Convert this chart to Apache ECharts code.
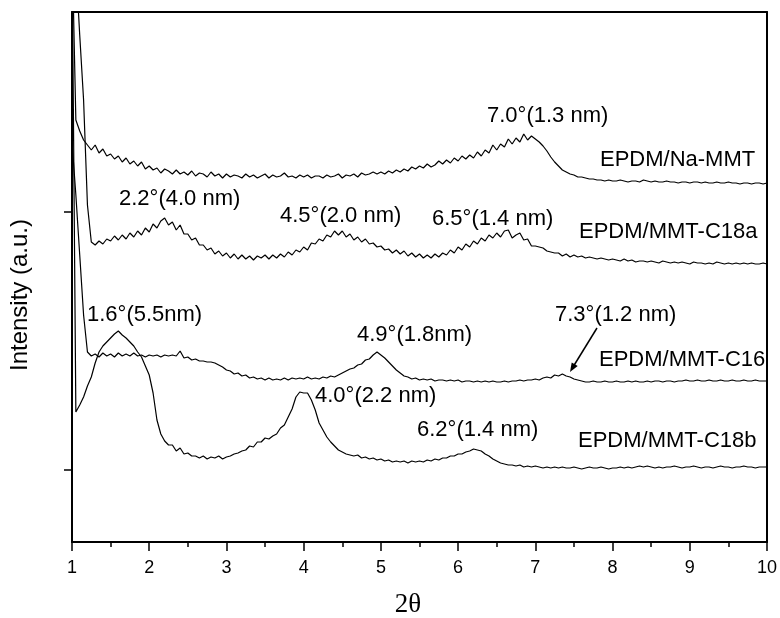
<!DOCTYPE html>
<html>
<head>
<meta charset="utf-8">
<script src="https://cdn.jsdelivr.net/npm/echarts@6/dist/echarts.min.js"></script>
<style>
  html, body { margin: 0; padding: 0; background: #fff; }
  #chart { width: 780px; height: 618px; }
</style>
</head>
<body>
<div id="chart"></div>
<script>
// XRD scan settings: start angle and step of 2θ (degrees)
const scanStart = 1.0;
const scanStep = 0.05;

// Diffracted intensity (a.u., curves offset vertically), one value per scan step from 1.00° to 10.00°
const naMMT = [
  600, 422, 411, 402, 397, 392, 397, 389, 393, 386,
  388, 383, 386, 380, 384, 378, 381, 376, 380, 373,
  376, 372, 374, 369, 373, 371, 368, 372, 368, 370,
  367, 371, 366, 369, 368, 365, 370, 366, 368, 364,
  368, 365, 367, 366, 364, 368, 365, 367, 364, 366,
  368, 364, 367, 365, 366, 369, 365, 366, 364, 367,
  365, 367, 364, 366, 366, 364, 367, 365, 366, 368,
  364, 367, 366, 368, 365, 369, 367, 368, 370, 368,
  370, 368, 371, 369, 372, 370, 373, 371, 375, 373,
  376, 374, 378, 375, 377, 381, 378, 382, 379, 384,
  381, 386, 383, 387, 384, 390, 386, 392, 389, 397,
  392, 398, 395, 403, 398, 404, 400, 408, 402, 406,
  403, 400, 396, 391, 385, 380, 376, 372, 370, 368,
  367, 365, 365, 364, 363, 363, 362, 362, 361, 362,
  361, 361, 362, 361, 360, 361, 361, 360, 362, 361,
  360, 361, 360, 360, 361, 360, 360, 359, 360, 360,
  359, 360, 360, 359, 360, 359, 359, 360, 359, 359,
  360, 359, 359, 358, 359, 359, 358, 359, 359, 358,
  359
];

const mmtC18a = [
  700, 577, 507, 442, 337, 300, 297, 301, 298, 303,
  301, 306, 302, 307, 303, 309, 305, 311, 307, 314,
  310, 318, 314, 321, 324, 317, 320, 312, 317, 308,
  308, 302, 304, 297, 297, 292, 294, 288, 291, 286,
  289, 284, 288, 283, 287, 283, 286, 282, 286, 284,
  287, 283, 287, 284, 288, 285, 290, 287, 292, 290,
  295, 292, 299, 298, 303, 301, 307, 305, 311, 307,
  311, 305, 308, 302, 305, 300, 303, 298, 299, 295,
  296, 292, 293, 289, 292, 288, 291, 286, 289, 285,
  288, 284, 287, 284, 288, 285, 289, 287, 292, 289,
  295, 292, 298, 295, 301, 298, 304, 301, 307, 304,
  309, 305, 311, 312, 304, 307, 309, 302, 303, 296,
  296, 295, 294, 291, 290, 289, 289, 286, 288, 285,
  287, 285, 286, 284, 285, 284, 283, 284, 283, 282,
  283, 282, 281, 283, 281, 282, 280, 281, 281, 280,
  281, 280, 279, 281, 280, 279, 280, 279, 280, 279,
  278, 280, 279, 279, 278, 279, 278, 280, 279, 278,
  279, 278, 279, 278, 279, 278, 279, 278, 278, 279,
  278
];

const mmtC16 = [
  400, 347, 287, 227, 190, 186, 188, 185, 189, 186,
  188, 185, 189, 186, 188, 186, 189, 186, 187, 185,
  187, 186, 187, 185, 187, 186, 187, 186, 191, 184,
  185, 182, 183, 181, 181, 180, 180, 179, 177, 175,
  172, 171, 168, 169, 166, 167, 164, 165, 163, 164,
  162, 164, 162, 163, 162, 164, 162, 164, 163, 164,
  163, 165, 163, 164, 163, 165, 164, 166, 165, 167,
  169, 171, 173, 174, 177, 178, 182, 183, 187, 190,
  187, 184, 180, 176, 172, 169, 166, 165, 163, 164,
  162, 163, 162, 163, 161, 162, 162, 161, 162, 161,
  162, 160, 161, 161, 160, 161, 160, 161, 160, 161,
  160, 160, 161, 160, 161, 161, 162, 161, 162, 162,
  163, 162, 164, 165, 164, 167, 166, 168, 166, 165,
  163, 162, 161, 160, 160, 161, 160, 160, 161, 160,
  160, 161, 160, 160, 161, 160, 161, 160, 160, 161,
  160, 161, 161, 160, 161, 161, 160, 161, 161, 162,
  161, 161, 162, 161, 161, 162, 161, 161, 162, 161,
  161, 162, 161, 161, 162, 161, 161, 162, 161, 161,
  161
];

const mmtC18b = [
  600, 130, 137, 145, 156, 165, 179, 190, 196, 200,
  204, 208, 211, 207, 204, 200, 196, 190, 185, 176,
  167, 149, 122, 108, 101, 97, 97, 91, 94, 88,
  89, 86, 86, 84, 86, 83, 85, 84, 86, 83,
  85, 86, 88, 89, 91, 92, 96, 95, 100, 100,
  104, 103, 106, 108, 114, 117, 125, 133, 145, 150,
  149, 149, 142, 132, 119, 112, 105, 100, 96, 92,
  90, 88, 87, 86, 87, 84, 85, 83, 84, 82,
  83, 81, 82, 80, 81, 80, 81, 79, 81, 80,
  81, 80, 82, 81, 83, 82, 84, 84, 86, 86,
  88, 88, 90, 91, 93, 92, 91, 88, 86, 83,
  81, 79, 78, 77, 77, 76, 77, 75, 76, 75,
  76, 75, 74, 75, 74, 75, 74, 75, 74, 74,
  75, 74, 73, 74, 75, 74, 74, 75, 74, 73,
  74, 74, 75, 74, 75, 74, 75, 76, 75, 76,
  75, 74, 75, 74, 75, 75, 76, 75, 74, 75,
  75, 76, 75, 74, 75, 75, 74, 75, 76, 75,
  75, 74, 75, 75, 76, 75, 75, 74, 75, 75,
  75
];

// Sample names and peak annotations (reflection angle and d-spacing)
const sampleNames = ['EPDM/Na-MMT', 'EPDM/MMT-C18a', 'EPDM/MMT-C16', 'EPDM/MMT-C18b'];
const peakNotes = [
  '7.0°(1.3 nm)',
  '2.2°(4.0 nm)', '4.5°(2.0 nm)', '6.5°(1.4 nm)',
  '1.6°(5.5nm)', '4.9°(1.8nm)', '7.3°(1.2 nm)',
  '4.0°(2.2 nm)', '6.2°(1.4 nm)'
];

// Y ticks marking the baselines (intensity a.u.)
const yTickValues = [72, 330];

// ---- layout ----
const textFont = '22px "Liberation Sans", Arial, sans-serif';
const sampleLabelPos = [[600, 160], [579, 232], [599, 360], [578, 441]];
const peakNotePos = [
  [487, 116],
  [119, 199], [280, 216], [432, 219],
  [87, 315], [357, 335], [555, 315],
  [315, 396], [417, 430]
];

function toPairs(intensity) {
  return intensity.map((v, i) => [Number((scanStart + i * scanStep).toFixed(2)), v]);
}

function textItem(text, pos) {
  return {
    type: 'text', x: pos[0], y: pos[1], silent: true,
    style: {
      text: text, font: textFont, fill: '#000',
      align: 'left', verticalAlign: 'middle',
      textAlign: 'left', textVerticalAlign: 'middle'
    }
  };
}

const chart = echarts.init(document.getElementById('chart'), null, { renderer: 'canvas' });

const curves = [naMMT, mmtC18a, mmtC16, mmtC18b];
const series = curves.map((c, i) => ({
  name: sampleNames[i],
  type: 'line',
  data: toPairs(c),
  showSymbol: false,
  symbol: 'none',
  clip: true,
  lineStyle: { color: '#000', width: 1.2 },
  emphasis: { disabled: true },
  z: 3
}));

const graphic = [];
sampleNames.forEach((n, i) => graphic.push(textItem(n, sampleLabelPos[i])));
peakNotes.forEach((n, i) => graphic.push(textItem(n, peakNotePos[i])));

// arrow pointing at the weak 7.3° reflection of EPDM/MMT-C16
graphic.push({
  type: 'line', silent: true,
  shape: { x1: 597, y1: 328, x2: 573, y2: 367 },
  style: { stroke: '#000', lineWidth: 1.5 }
});
graphic.push({
  type: 'polygon', silent: true,
  shape: { points: [[570, 372], [577.7, 366.1], [571.7, 362.5]] },
  style: { fill: '#000' }
});

// axis titles
graphic.push({
  type: 'text', x: 20, y: 295, rotation: Math.PI / 2, silent: true,
  style: {
    text: 'Intensity (a.u.)', font: '24px "Liberation Sans", Arial, sans-serif', fill: '#000',
    align: 'center', verticalAlign: 'middle',
    textAlign: 'center', textVerticalAlign: 'middle'
  }
});
graphic.push({
  type: 'text', x: 408, y: 605, silent: true,
  style: {
    text: '2θ', font: '27px "Liberation Serif", "Times New Roman", serif', fill: '#000',
    align: 'center', verticalAlign: 'middle',
    textAlign: 'center', textVerticalAlign: 'middle'
  }
});

chart.setOption({
  animation: false,
  backgroundColor: '#fff',
  grid: { left: 72, right: 11, top: 12, bottom: 76, containLabel: false },
  xAxis: [
    {
      type: 'value', min: 1, max: 10, interval: 1, position: 'bottom',
      axisLine: { show: true, onZero: false, lineStyle: { color: '#000', width: 2 } },
      axisTick: { show: true, inside: false, length: 9, lineStyle: { color: '#000', width: 1.5 } },
      minorTick: { show: true, splitNumber: 2, length: 5, lineStyle: { color: '#000', width: 1.5 } },
      axisLabel: { color: '#000', fontSize: 18, fontFamily: '"Liberation Sans", Arial, sans-serif', margin: 17 },
      splitLine: { show: false }
    },
    {
      type: 'value', min: 1, max: 10, interval: 1, position: 'top',
      axisLine: { show: true, onZero: false, lineStyle: { color: '#000', width: 2 } },
      axisTick: { show: false }, axisLabel: { show: false }, splitLine: { show: false }
    }
  ],
  yAxis: [
    {
      type: 'value', min: 0, max: 530, position: 'left',
      axisLine: { show: true, onZero: false, lineStyle: { color: '#000', width: 2 } },
      axisTick: { show: true, inside: false, length: 8, customValues: yTickValues, lineStyle: { color: '#000', width: 1.5 } },
      axisLabel: { show: false },
      splitLine: { show: false }
    },
    {
      type: 'value', min: 0, max: 530, position: 'right',
      axisLine: { show: true, onZero: false, lineStyle: { color: '#000', width: 2 } },
      axisTick: { show: false }, axisLabel: { show: false }, splitLine: { show: false }
    }
  ],
  series: series,
  graphic: graphic
});
</script>
</body>
</html>
